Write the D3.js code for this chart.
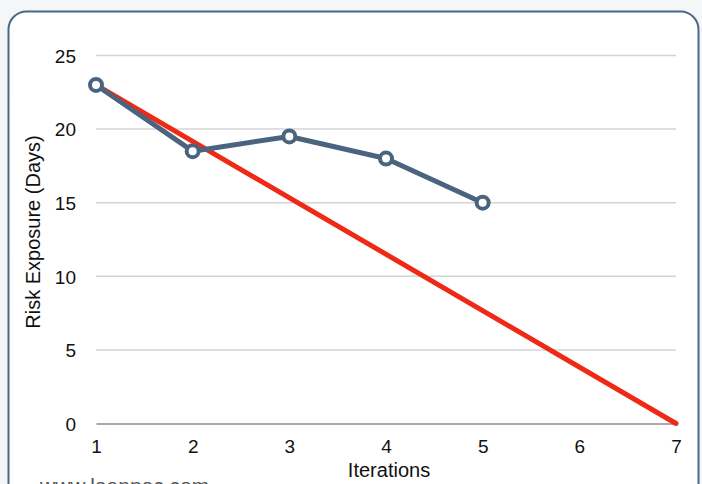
<!DOCTYPE html>
<html><head><meta charset="utf-8">
<script src="https://cdn.jsdelivr.net/npm/d3@7"></script>
<style>html,body{margin:0;padding:0;background:#f4f6f8;}svg{display:block;}</style>
</head><body>
<script>
const iterations = [1, 2, 3, 4, 5];
const riskExposure = [23, 18.5, 19.5, 18, 15];
const idealIterations = [1, 7];
const idealValues = [23, 0];
const xTicks = [1, 2, 3, 4, 5, 6, 7];
const yTicks = [0, 5, 10, 15, 20, 25];

const W = 702, H = 484;
const svg = d3.select("body").append("svg").attr("width", W).attr("height", H);

svg.append("rect").attr("x", 8.5).attr("y", 11.5).attr("width", 690).attr("height", 520)
  .attr("rx", 18).attr("fill", "#ffffff").attr("stroke", "#4b6783").attr("stroke-width", 2);

const x = d3.scaleLinear().domain([1, 7]).range([96, 676]);
const y = d3.scaleLinear().domain([0, 25]).range([423.5, 55.5]);
const font = "'Liberation Sans', Arial, sans-serif";

// gridlines
svg.append("g").selectAll("line").data(yTicks.filter(d => d > 0)).join("line")
  .attr("x1", x(1)).attr("x2", x(7)).attr("y1", d => y(d)).attr("y2", d => y(d))
  .attr("stroke", "#d4d4d4").attr("stroke-width", 1.5);

// y axis labels
const yAxis = d3.axisLeft(y).tickValues(yTicks).tickSize(0).tickPadding(0);
const gy = svg.append("g").attr("transform", "translate(76,0)").call(yAxis);
gy.select(".domain").remove();
gy.selectAll("text").attr("font-family", font).attr("font-size", 19).attr("fill", "#111").attr("dy", "0.36em");

// x axis
const xAxis = d3.axisBottom(x).tickValues(xTicks).tickSize(0).tickPadding(0).tickFormat(d3.format("d"));
const gx = svg.append("g").attr("transform", `translate(0,${y(0)})`).call(xAxis);
gx.select(".domain").attr("stroke", "#555").attr("stroke-width", 1.2);
gx.selectAll("text").attr("font-family", font).attr("font-size", 19).attr("fill", "#111").attr("y", 16);

// titles
svg.append("text").attr("x", 389).attr("y", 477).attr("text-anchor", "middle")
  .attr("font-family", font).attr("font-size", 20).attr("fill", "#111").text("Iterations");
svg.append("text").attr("transform", "translate(40,232) rotate(-90)").attr("text-anchor", "middle")
  .attr("font-family", font).attr("font-size", 20).attr("fill", "#111").text("Risk Exposure (Days)");
svg.append("text").attr("x", 40).attr("y", 493)
  .attr("font-family", font).attr("font-size", 21).attr("fill", "#555").text("www.leanpec.com");

// ideal red line
const line = d3.line().x(d => x(d[0])).y(d => y(d[1]));
svg.append("path").datum(d3.zip(idealIterations, idealValues)).attr("d", line)
  .attr("fill", "none").attr("stroke", "#ee2a17").attr("stroke-width", 5).attr("stroke-linecap", "round");

// actual line
const pts = d3.zip(iterations, riskExposure);
svg.append("path").datum(pts).attr("d", line)
  .attr("fill", "none").attr("stroke", "#4a6480").attr("stroke-width", 5).attr("stroke-linejoin", "round");
svg.append("g").selectAll("circle").data(pts).join("circle")
  .attr("cx", d => x(d[0])).attr("cy", d => y(d[1])).attr("r", 6)
  .attr("fill", "#ffffff").attr("stroke", "#4a6480").attr("stroke-width", 4);
</script>
</body></html>
